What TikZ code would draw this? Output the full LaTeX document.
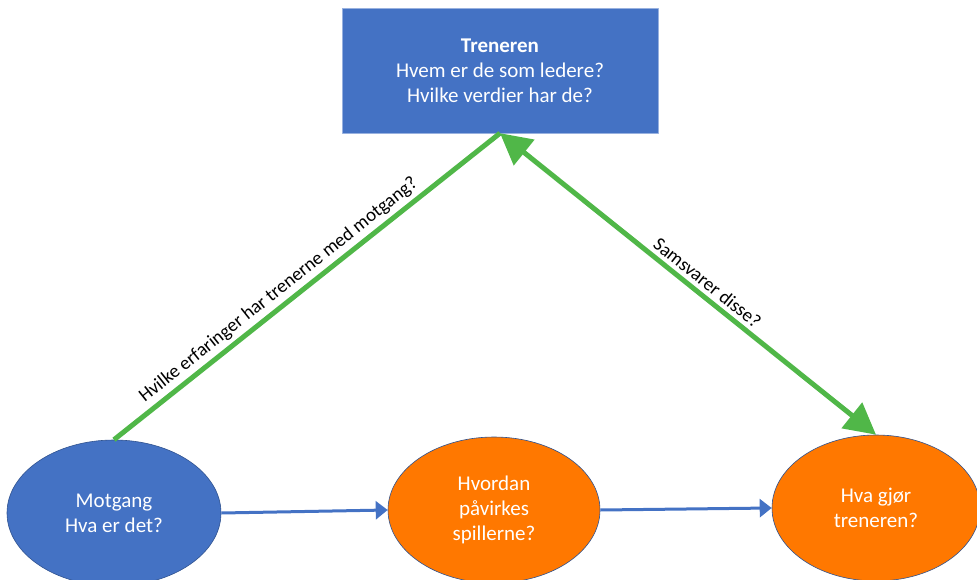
\documentclass[tikz,border=0pt]{standalone}
\usepackage{fontspec}
\setmainfont{Carlito}
\usetikzlibrary{shapes.geometric,arrows.meta}
\definecolor{boksblaa}{HTML}{4472C4}
\definecolor{oransje}{HTML}{FF7800}
\definecolor{gronn}{HTML}{50B748}
\definecolor{kant}{HTML}{2F528F}
\begin{document}
\begin{tikzpicture}[x=1pt,y=-1pt,line join=round,
		boks/.style={rectangle,fill=boksblaa,draw=boksblaa!55,text=white,inner sep=0,
			minimum width=316,minimum height=125,align=center,font=\fontsize{21}{25}\selectfont},
		sirkel/.style={ellipse,draw=kant,line width=.6pt,text=white,inner sep=0,
			minimum width=212,minimum height=146,align=center,font=\fontsize{21}{25}\selectfont},
		pil/.style={draw=boksblaa,line width=3pt,-{Triangle[length=12pt,width=18pt]}},
		grpil/.style={draw=gronn,line width=5pt},
		merke/.style={font=\fontsize{19}{23}\selectfont,text=black,inner sep=4pt}]
	\useasboundingbox (0,0) rectangle (977,580);
	\clip (0,0) rectangle (977,580);
	\node[boks] (trener) at (500,70.5) {\textbf{Treneren}\\Hvem er de som ledere?\\Hvilke verdier har de?};
	\node[sirkel,fill=boksblaa,minimum width=214] (motgang) at (114,513) {Motgang\\Hva er det?};
	\node[sirkel,fill=oransje] (spiller) at (494,510) {Hvordan\\påvirkes\\spillerne?};
	\node[sirkel,fill=oransje,minimum width=208] (gjor) at (876,508) {Hva gjør\\treneren?};
	\draw[pil] (motgang.east) -- (spiller.west);
	\draw[pil] (spiller.east) -- (gjor.west);
	\draw[grpil] (motgang.north) -- node[merke,sloped,above,pos=.45]{Hvilke erfaringer har trenerne med motgang?} (trener.south);
	\draw[grpil,{Triangle[length=31pt,width=32pt]}-{Triangle[length=31pt,width=32pt]}] (trener.south) -- node[merke,sloped,above,pos=.53]{Samsvarer disse?} (gjor.north);
\end{tikzpicture}
\end{document}
